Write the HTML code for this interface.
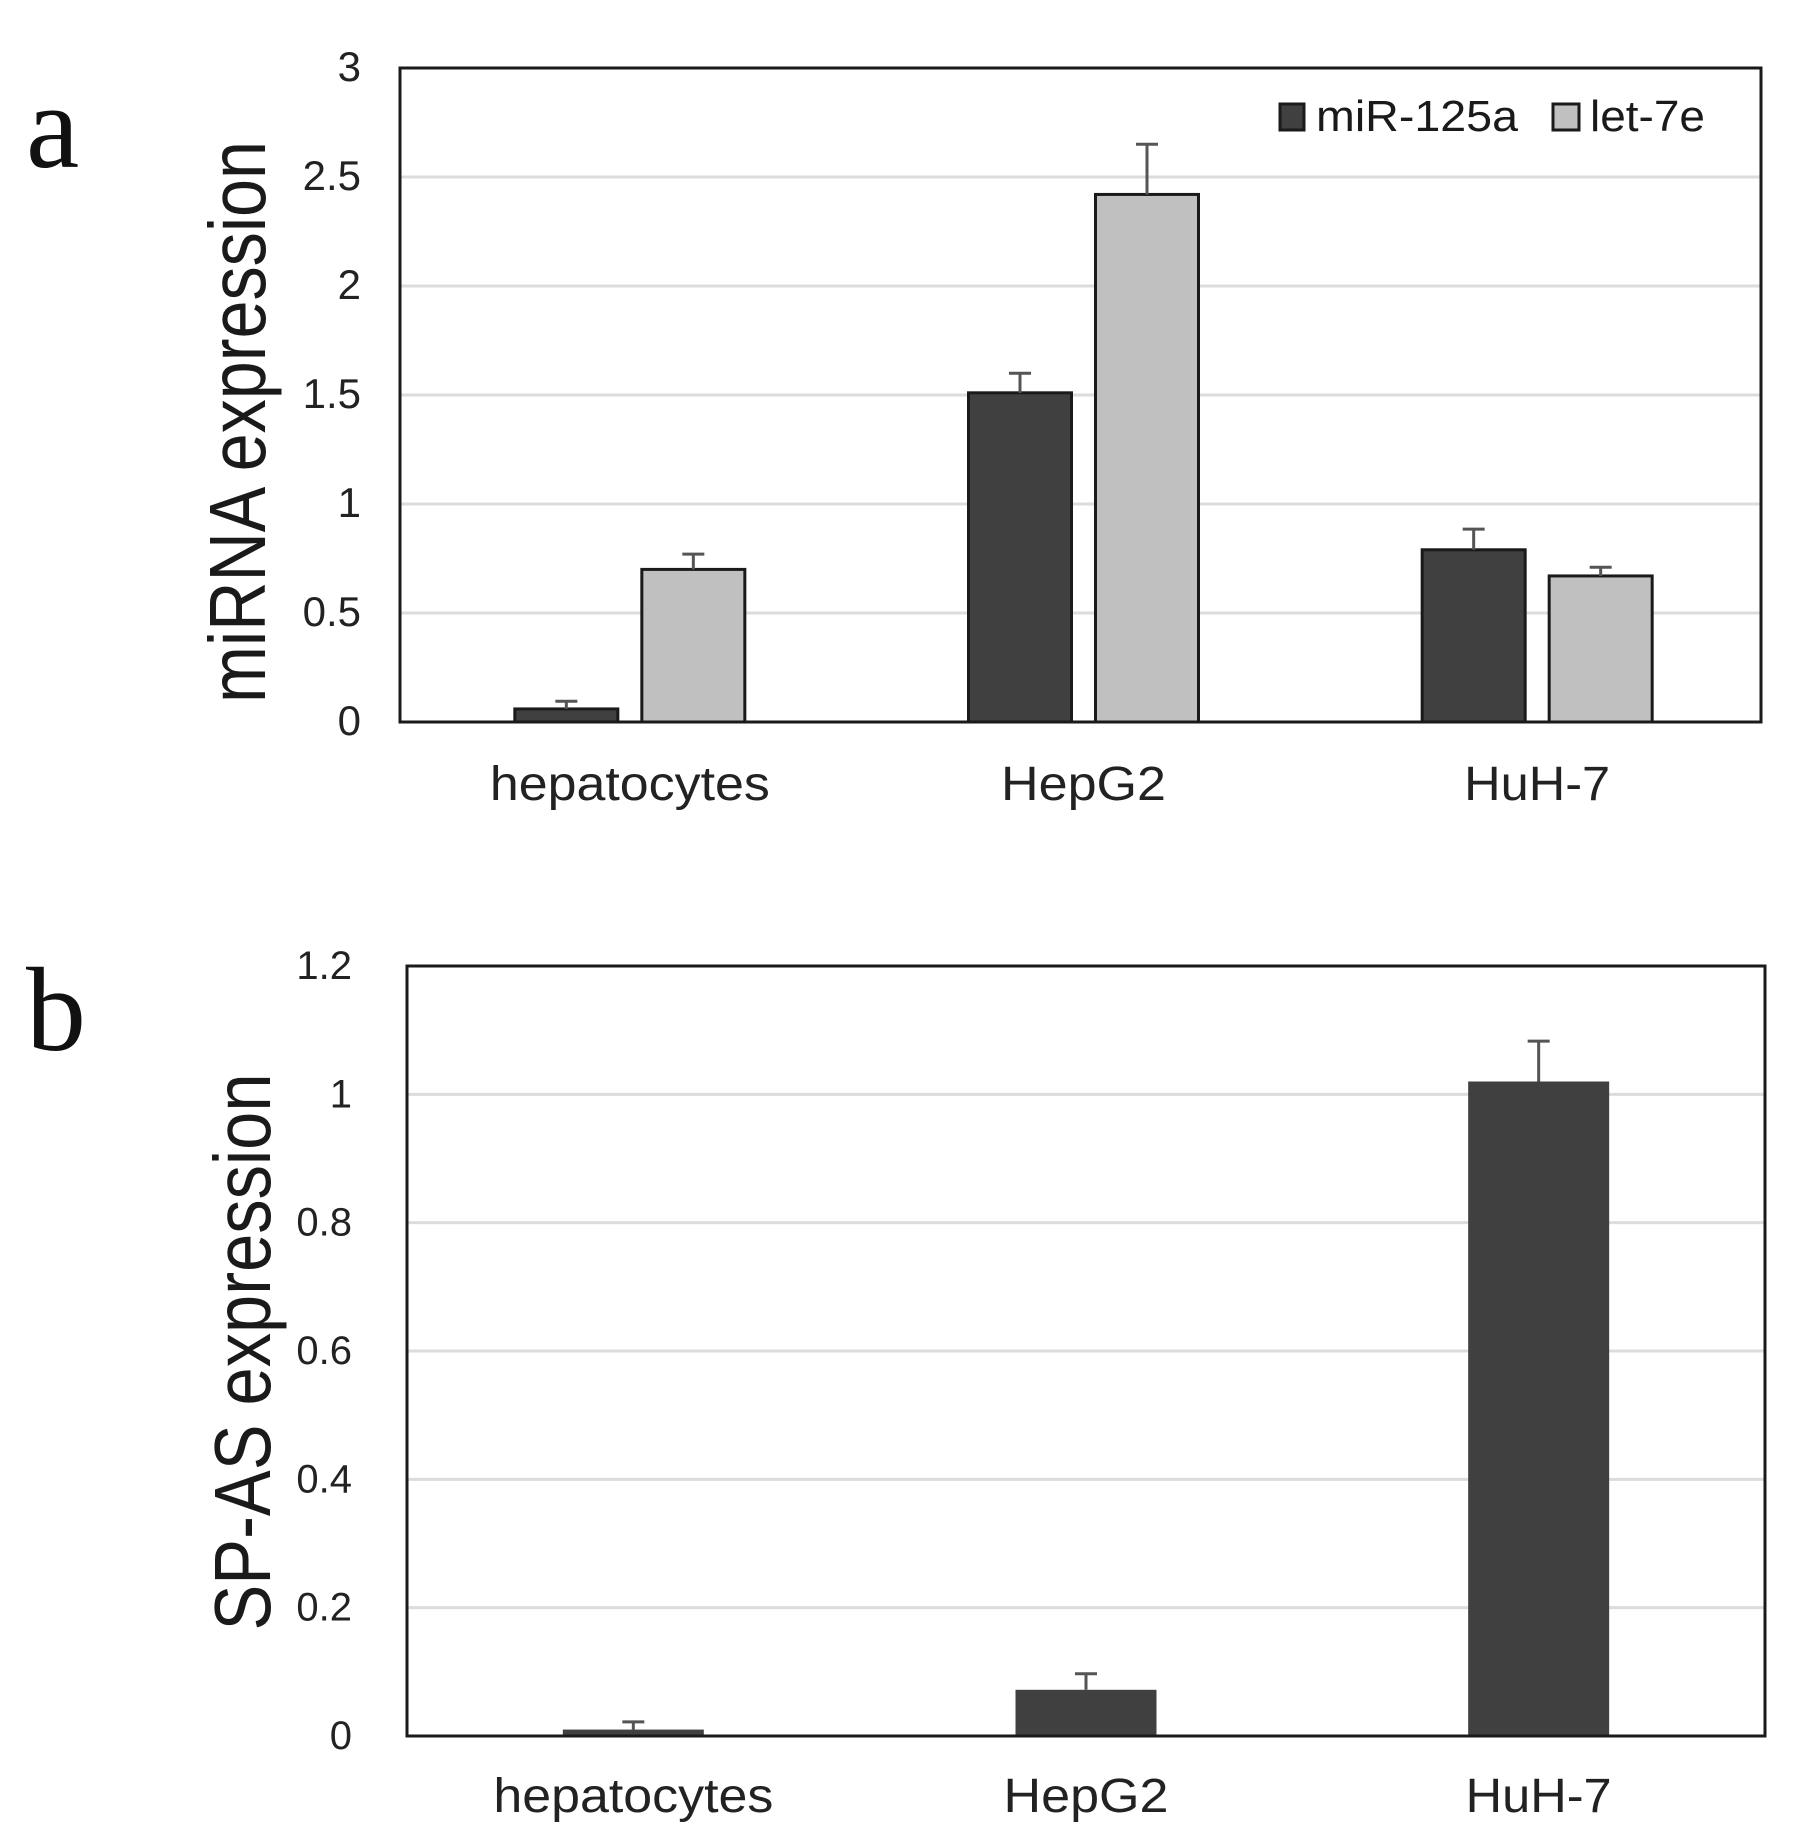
<!DOCTYPE html>
<html><head><meta charset="utf-8">
<style>
html,body{margin:0;padding:0;background:#fff;}
svg{display:block;font-family:"Liberation Sans",sans-serif;}
</style></head>
<body>
<svg id="fig" width="1807" height="1843" viewBox="0 0 1807 1843" xmlns="http://www.w3.org/2000/svg">
  <text x="26" y="167" font-family="Liberation Serif, serif" font-size="120" fill="#111">a</text>
  <text x="26" y="1050" font-family="Liberation Serif, serif" font-size="120" fill="#111">b</text>
  <g id="pa"></g>
  <g id="pb"></g>
</svg>
<script>
const categories = ["hepatocytes", "HepG2", "HuH-7"];
const catLabelWidths = [280, 165, 146];
const seriesNamesA = ["miR-125a", "let-7e"];
const mirValues = [0.06, 1.51, 0.79];
const mirErrors = [0.035, 0.09, 0.095];
const letValues = [0.70, 2.42, 0.67];
const letErrors = [0.07, 0.23, 0.04];
const ticksA = ["0", "0.5", "1", "1.5", "2", "2.5", "3"];
const spValues = [0.01, 0.072, 1.02];
const spErrors = [0.012, 0.025, 0.063];
const ticksB = ["0", "0.2", "0.4", "0.6", "0.8", "1", "1.2"];

const NS = "http://www.w3.org/2000/svg";
function mk(parent, tag, attrs, text) {
  const e = document.createElementNS(NS, tag);
  for (const k in attrs) e.setAttribute(k, attrs[k]);
  if (text !== undefined) e.textContent = text;
  parent.appendChild(e);
  return e;
}

// ---------- Panel A ----------
const pa = document.getElementById("pa");
const A = {l: 400, r: 1761, t: 68, b: 722, max: 3};
const yA = v => A.b - v / A.max * (A.b - A.t);
const catW_A = (A.r - A.l) / categories.length;
const xA = i => A.l + catW_A * (i + 0.5);

ticksA.forEach((t, i) => {
  const v = parseFloat(t);
  const y = yA(v);
  if (v > 0 && v < A.max) {
    const g = mk(pa, "line", {x1: A.l, x2: A.r, y1: y, y2: y, stroke: "#dcdcdc", "stroke-width": 3});
    
    
  }
  const tl = mk(pa, "text", {x: 361, y: y + 13, "text-anchor": "end", "font-size": 42, fill: "#222"}, t);
  
  
});

const bw = 103, gap = 24;
categories.forEach((c, i) => {
  const cx = xA(i) + 3;
  [[mirValues, mirErrors, "#404040", -1], [letValues, letErrors, "#c0c0c0", 1]].forEach(([vals, errs, col, side], s) => {
    const x0 = side < 0 ? cx - gap / 2 - bw : cx + gap / 2;
    const yv = yA(vals[i]);
    const r = mk(pa, "rect", {x: x0, y: yv, width: bw, height: A.b - yv, fill: col, stroke: "#1a1a1a", "stroke-width": 3});
    
    
    const ye = yA(vals[i] + errs[i]);
    const mx = x0 + bw / 2;
    const el = mk(pa, "path", {d: `M${mx},${yv} V${ye} M${mx - 11},${ye} H${mx + 11}`, stroke: "#555", "stroke-width": 3, fill: "none"});
    
    
  });
  const lab = mk(pa, "text", {x: xA(i) + 3, y: 800, "text-anchor": "middle", "font-size": 48, textLength: catLabelWidths[i], lengthAdjust: "spacingAndGlyphs", fill: "#222"}, c);
  
  
});
const frameA = mk(pa, "rect", {x: A.l, y: A.t, width: A.r - A.l, height: A.b - A.t, fill: "none", stroke: "#1a1a1a", "stroke-width": 3});



const yt = mk(pa, "text", {x: 0, y: 0, transform: "translate(265,422) rotate(-90)", "text-anchor": "middle", "font-size": 80, textLength: 562, lengthAdjust: "spacingAndGlyphs", fill: "#1a1a1a"}, "miRNA expression");



// legend
const leg = mk(pa, "g", {});


const l1 = mk(leg, "rect", {x: 1280, y: 104, width: 24, height: 26, fill: "#404040", stroke: "#1a1a1a", "stroke-width": 3});


const t1 = mk(leg, "text", {x: 1316, y: 131, "font-size": 44, textLength: 202, lengthAdjust: "spacingAndGlyphs", fill: "#1a1a1a"}, seriesNamesA[0]);


const l2 = mk(leg, "rect", {x: 1553, y: 104, width: 26, height: 26, fill: "#c0c0c0", stroke: "#1a1a1a", "stroke-width": 3});


const t2 = mk(leg, "text", {x: 1590, y: 131, "font-size": 44, textLength: 115, lengthAdjust: "spacingAndGlyphs", fill: "#1a1a1a"}, seriesNamesA[1]);



// ---------- Panel B ----------
const pb = document.getElementById("pb");
const B = {l: 407, r: 1765, t: 966, b: 1736, max: 1.2};
const yB = v => B.b - v / B.max * (B.b - B.t);
const catW_B = (B.r - B.l) / categories.length;
const xB = i => B.l + catW_B * (i + 0.5);

ticksB.forEach(t => {
  const v = parseFloat(t);
  const y = yB(v);
  if (v > 0 && v < B.max) {
    const g = mk(pb, "line", {x1: B.l, x2: B.r, y1: y, y2: y, stroke: "#dcdcdc", "stroke-width": 3});
    
    
  }
  const tl = mk(pb, "text", {x: 352, y: y + 13, "text-anchor": "end", "font-size": 40, fill: "#222"}, t);
  
  
});
const bwB = 141;
categories.forEach((c, i) => {
  const cx = xB(i);
  const yv = yB(spValues[i]);
  const r = mk(pb, "rect", {x: cx - bwB / 2, y: yv, width: bwB, height: B.b - yv, fill: "#404040"});
  
  
  const ye = yB(spValues[i] + spErrors[i]);
  const el = mk(pb, "path", {d: `M${cx},${yv} V${ye} M${cx - 11},${ye} H${cx + 11}`, stroke: "#555", "stroke-width": 3, fill: "none"});
  
  
  const lab = mk(pb, "text", {x: cx, y: 1812, "text-anchor": "middle", "font-size": 48, textLength: catLabelWidths[i], lengthAdjust: "spacingAndGlyphs", fill: "#222"}, c);
  
  
});
const frameB = mk(pb, "rect", {x: B.l, y: B.t, width: B.r - B.l, height: B.b - B.t, fill: "none", stroke: "#1a1a1a", "stroke-width": 3});


const ytb = mk(pb, "text", {x: 0, y: 0, transform: "translate(270,1352) rotate(-90)", "text-anchor": "middle", "font-size": 80, textLength: 557, lengthAdjust: "spacingAndGlyphs", fill: "#1a1a1a"}, "SP-AS expression");


</script>
</body></html>
